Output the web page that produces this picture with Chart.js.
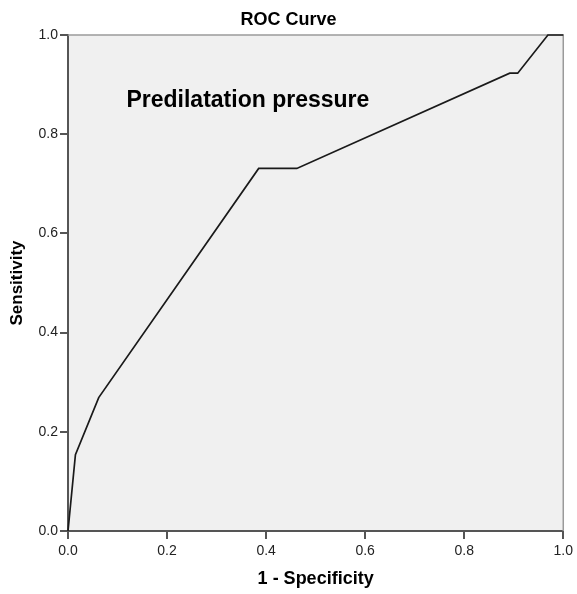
<!DOCTYPE html>
<html>
<head>
<meta charset="utf-8">
<script src="https://cdn.jsdelivr.net/npm/chart.js@4"></script>
<style>
html,body{margin:0;padding:0;background:#fff;}
#wrap{width:577px;height:594px;}
</style>
</head>
<body>
<div id="wrap"><canvas id="c" width="577" height="594"></canvas></div>
<script>
const fprValues = [0, 0.015, 0.062, 0.385, 0.462, 0.892, 0.908, 0.969, 1.0];
const sensValues = [0, 0.154, 0.269, 0.731, 0.731, 0.923, 0.923, 1.0, 1.0];
const tickValues = [0, 0.2, 0.4, 0.6, 0.8, 1.0];
const tickLabels = ['0.0', '0.2', '0.4', '0.6', '0.8', '1.0'];
const chartTitle = 'ROC Curve';
const annotationText = 'Predilatation pressure';
const xTitle = '1 - Specificity';
const yTitle = 'Sensitivity';

const points = fprValues.map((x, i) => ({x: x, y: sensValues[i]}));
const FONT = 'Arial, "Liberation Sans", sans-serif';

const framePlugin = {
  id: 'frame',
  beforeDraw(chart) {
    const {ctx, chartArea: a} = chart;
    ctx.save();
    ctx.fillStyle = '#f0f0f0';
    ctx.fillRect(a.left, a.top, a.right - a.left, a.bottom - a.top);
    ctx.restore();
  },
  beforeDatasetsDraw(chart) {
    const {ctx, chartArea: a} = chart;
    ctx.save();
    ctx.strokeStyle = '#9a9a9a';
    ctx.lineWidth = 1.5;
    ctx.beginPath();
    ctx.moveTo(a.left, a.top);
    ctx.lineTo(a.right, a.top);
    ctx.lineTo(a.right, a.bottom);
    ctx.stroke();
    ctx.restore();
  },
  afterDraw(chart) {
    const {ctx, scales} = chart;
    ctx.save();
    ctx.fillStyle = '#000';
    ctx.textAlign = 'center';
    ctx.textBaseline = 'alphabetic';
    ctx.font = 'bold 18px ' + FONT;
    ctx.fillText(chartTitle, chart.width / 2, 25);
    ctx.textAlign = 'left';
    ctx.font = 'bold 23px ' + FONT;
    ctx.fillText(annotationText, scales.x.getPixelForValue(0.118), scales.y.getPixelForValue(0.854));
    ctx.restore();
  }
};

new Chart(document.getElementById('c'), {
  type: 'scatter',
  data: {
    datasets: [{
      data: points,
      showLine: true,
      borderColor: '#1a1a1a',
      borderWidth: 1.7,
      pointRadius: 0,
      fill: false,
      tension: 0,
      clip: false
    }]
  },
  options: {
    responsive: false,
    animation: false,
    events: [],
    layout: {padding: {top: 35, right: 10, left: 0, bottom: 0}},
    plugins: {legend: {display: false}, tooltip: {enabled: false}, title: {display: false}},
    scales: {
      x: {
        type: 'linear', min: 0, max: 1,
        afterFit(s) { s.height = 63; },
        afterBuildTicks(s) { s.ticks = tickValues.map(v => ({value: v})); },
        ticks: {
          callback: (v) => tickLabels[tickValues.findIndex(t => Math.abs(t - v) < 1e-9)],
          color: '#222', font: {family: FONT, size: 14}, padding: 4, maxRotation: 0
        },
        grid: {drawOnChartArea: false, drawTicks: true, tickLength: 8, color: '#555', lineWidth: 2},
        border: {display: true, color: '#555', width: 2},
        title: {display: true, text: xTitle, color: '#000', font: {family: FONT, size: 18, weight: 'bold'}, padding: {top: 0, bottom: 4}}
      },
      y: {
        type: 'linear', min: 0, max: 1,
        afterFit(s) { s.width = 68; },
        afterBuildTicks(s) { s.ticks = tickValues.map(v => ({value: v})); },
        ticks: {
          callback: (v) => tickLabels[tickValues.findIndex(t => Math.abs(t - v) < 1e-9)],
          color: '#222', font: {family: FONT, size: 14}, padding: 2
        },
        grid: {drawOnChartArea: false, drawTicks: true, tickLength: 8, color: '#555', lineWidth: 2},
        border: {display: true, color: '#555', width: 2},
        title: {display: true, text: yTitle, color: '#000', font: {family: FONT, size: 17, weight: 'bold'}, padding: {top: 7, bottom: 0}}
      }
    }
  },
  plugins: [framePlugin]
});
</script>
</body>
</html>
